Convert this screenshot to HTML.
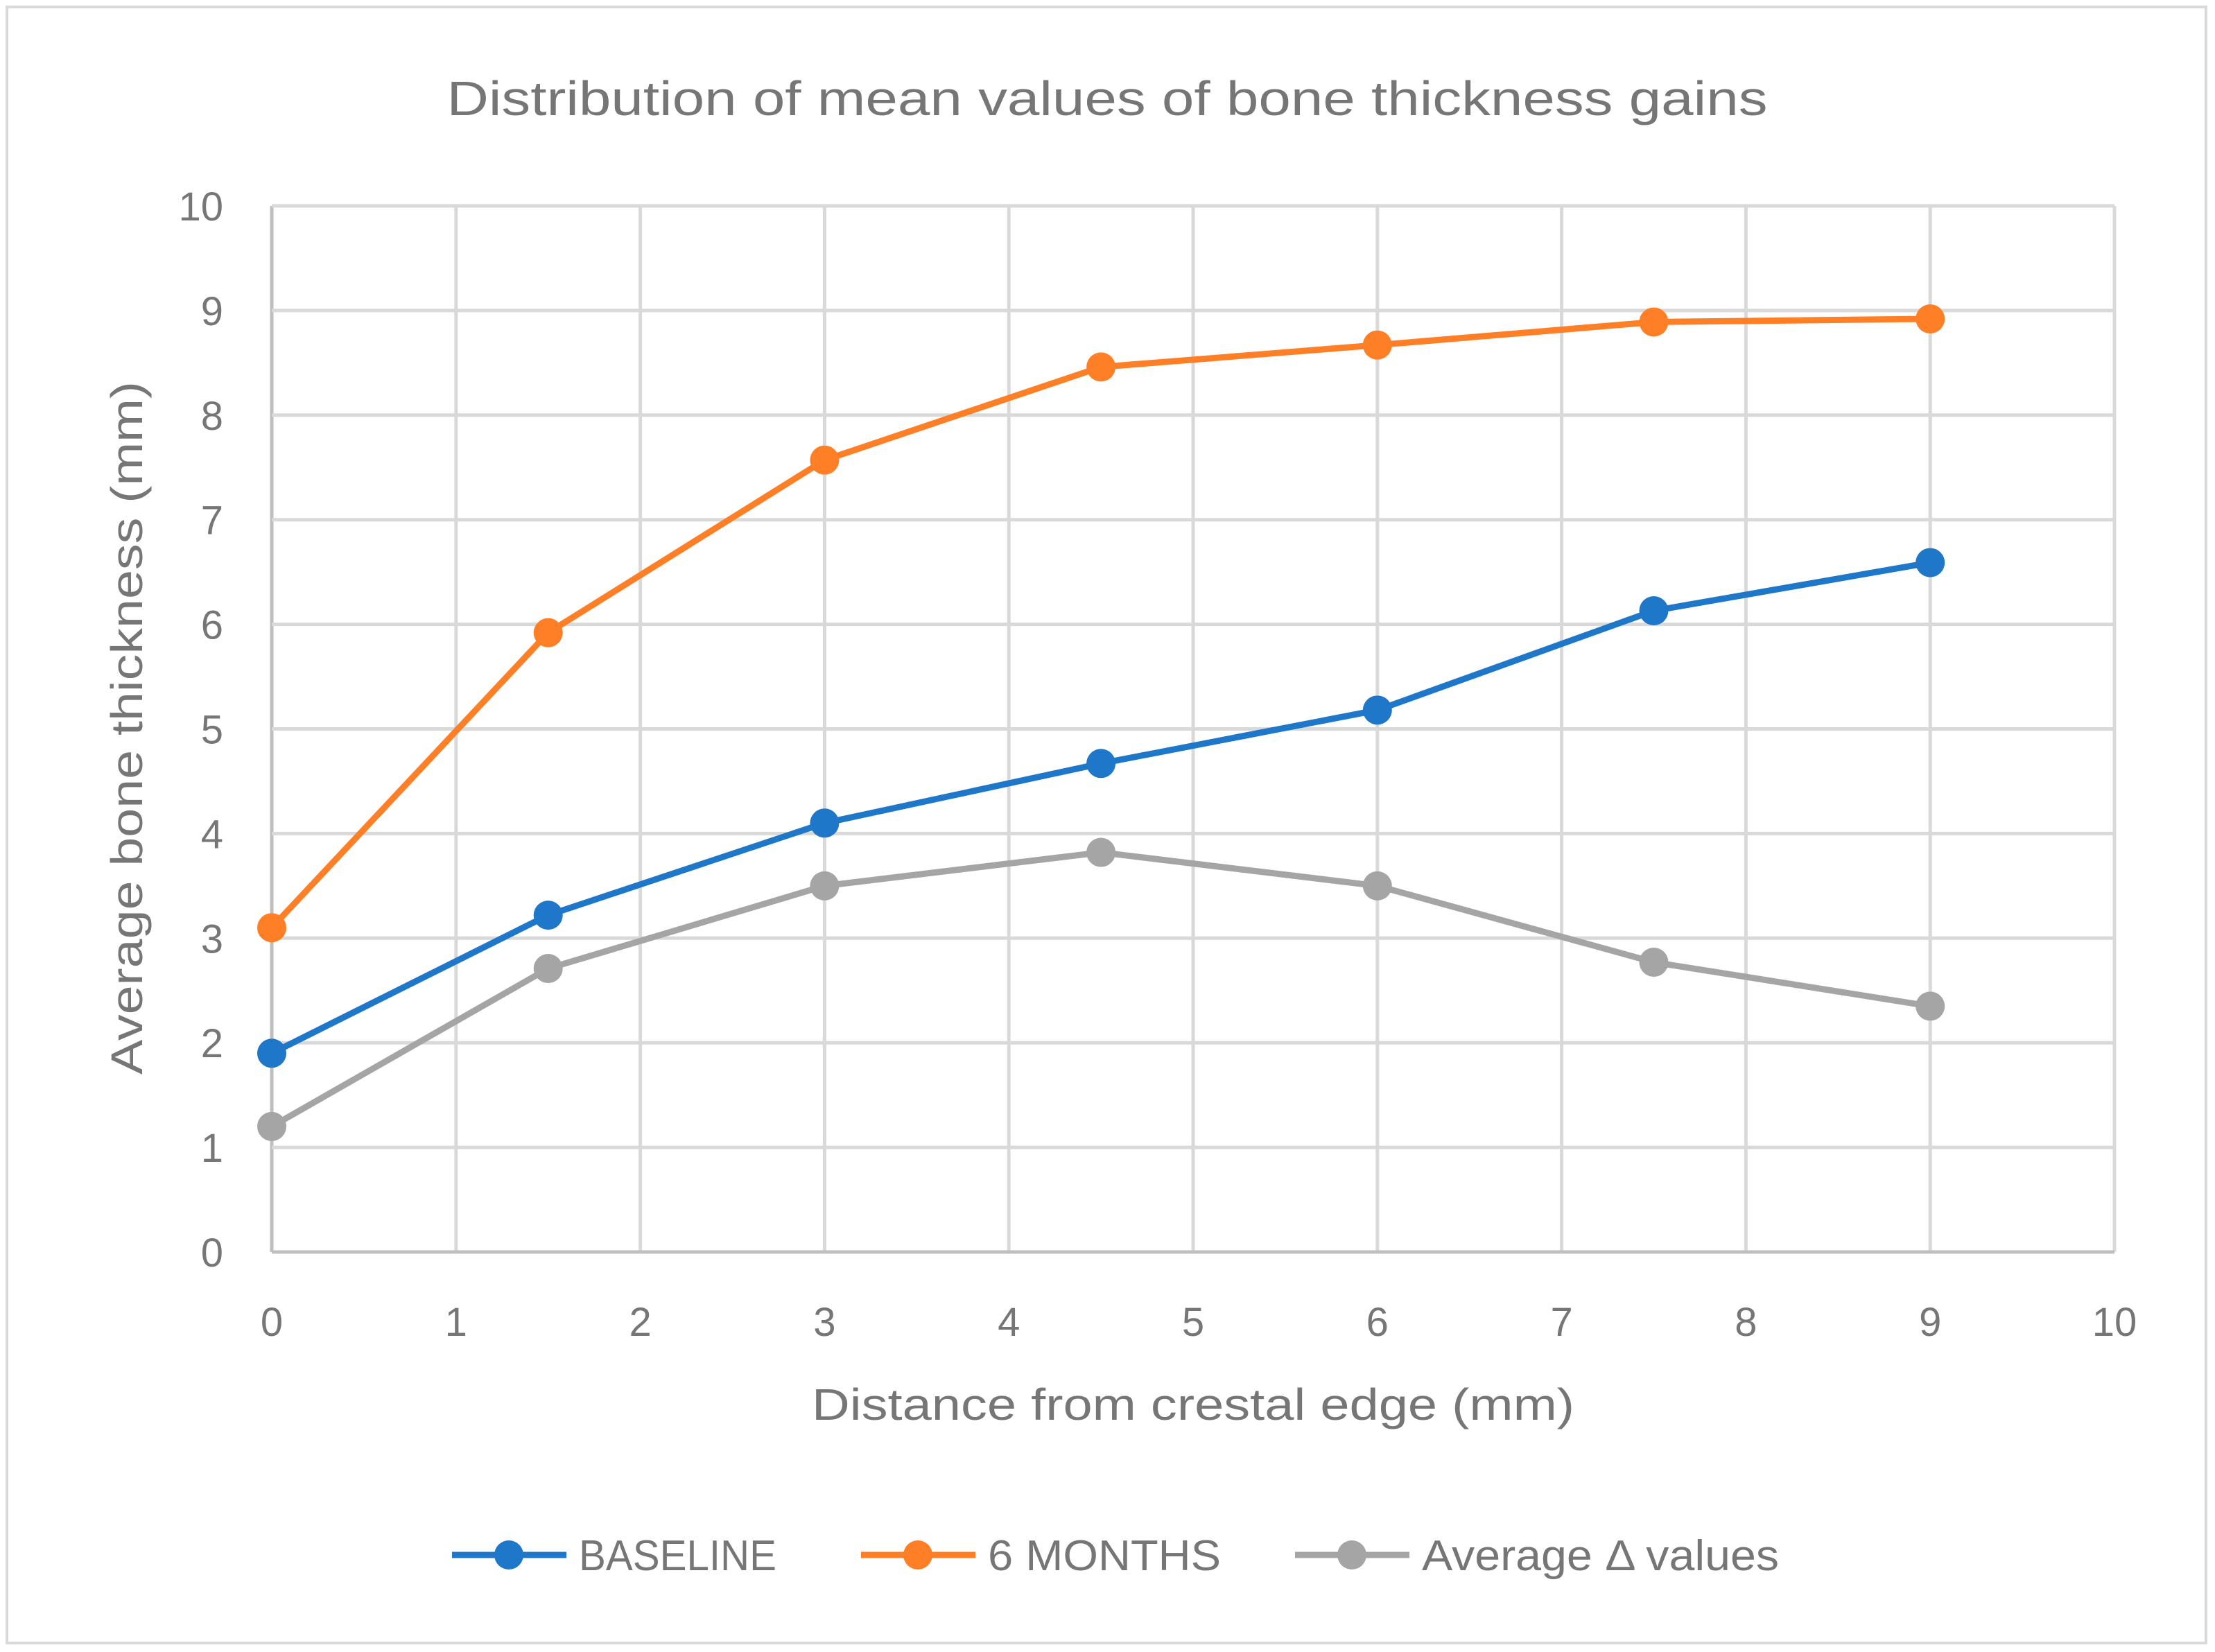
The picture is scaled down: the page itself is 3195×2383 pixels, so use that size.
<!DOCTYPE html>
<html><head><meta charset="utf-8"><style>
html,body{margin:0;padding:0;background:#fff;}
svg{display:block;font-family:"Liberation Sans",sans-serif;}
</style></head><body>
<svg id="chart" width="3195" height="2383">
<rect x="10" y="10" width="3172" height="2360" fill="#fff" stroke="#d9d9d9" stroke-width="4"/>
<text x="1597" y="166" text-anchor="middle" font-size="70" fill="#767676" textLength="1905" lengthAdjust="spacingAndGlyphs">Distribution of mean values of bone thickness gains</text>
<g id="grid"></g><g id="series"></g>
<text x="1721" y="2048" text-anchor="middle" font-size="64" fill="#767676" textLength="1100" lengthAdjust="spacingAndGlyphs">Distance from crestal edge (mm)</text>
<text transform="translate(205,1050) rotate(-90)" text-anchor="middle" font-size="64" fill="#767676" textLength="1000" lengthAdjust="spacingAndGlyphs">Average bone thickness (mm)</text>
<g id="legend"></g>
</svg>
<script>
const xTicks=[0,1,2,3,4,5,6,7,8,9,10];
const yTicks=[0,1,2,3,4,5,6,7,8,9,10];
const xValues=[0,1.5,3,4.5,6,7.5,9];
const baseline=[1.9,3.22,4.1,4.67,5.18,6.13,6.59];
const months6=[3.1,5.92,7.57,8.46,8.67,8.89,8.92];
const delta=[1.2,2.71,3.5,3.82,3.5,2.77,2.35];
const seriesNames=["BASELINE","6 MONTHS","Average \u0394 values"];
const NS="http://www.w3.org/2000/svg";
const L=392,R=3050,T=297,B=1806;
const sx=v=>L+(v-0)/(10-0)*(R-L);
const sy=v=>B-(v-0)/(10-0)*(B-T);
function mk(tag,attrs,parent){const e=document.createElementNS(NS,tag);for(const k in attrs)e.setAttribute(k,attrs[k]);parent.appendChild(e);return e;}
const grid=document.getElementById('grid');
xTicks.forEach(t=>{
 const l=mk('line',{x1:sx(t),x2:sx(t),y1:T,y2:B,stroke:t===0?'#bfbfbf':'#d9d9d9','stroke-width':5},grid);
 
 
 const tx=mk('text',{x:sx(t),y:1927,'text-anchor':'middle','font-size':58,fill:'#767676'},grid);
 tx.textContent=t;
 
 
});
yTicks.forEach(t=>{
 const l=mk('line',{x1:L,x2:R,y1:sy(t),y2:sy(t),stroke:t===0?'#bfbfbf':'#d9d9d9','stroke-width':5},grid);
 
 
 const tx=mk('text',{x:322,y:sy(t)+21,'text-anchor':'end','font-size':58,fill:'#767676'},grid);
 tx.textContent=t;
 
 
});
const colors=['#1f77c9','#ff7f27','#a5a5a5'];
const data=[baseline,months6,delta];
const sg=document.getElementById('series');
[2,0,1].forEach(i=>{
 const g=mk('g',{},sg);
 
 
 const pts=data[i].map((v,j)=>sx(xValues[j])+','+sy(v)).join(' ');
 const pl=mk('polyline',{points:pts,fill:'none',stroke:colors[i],'stroke-width':9,'stroke-linejoin':'round'},g);
 
 
 data[i].forEach((v,j)=>{
  const c=mk('circle',{cx:sx(xValues[j]),cy:sy(v),r:21,fill:colors[i]},g);
  
  
 });
});
const lg=document.getElementById('legend');
const lx=[652,1242,1868];
const lw=[285,336,515];
seriesNames.forEach((n,i)=>{
 const g=mk('g',{},lg);
 
 
 mk('line',{x1:lx[i],x2:lx[i]+165,y1:2243,y2:2243,stroke:colors[i],'stroke-width':9},g);
 mk('circle',{cx:lx[i]+82,cy:2243,r:21,fill:colors[i]},g);
 const t=mk('text',{x:lx[i]+183,y:2265,'font-size':62,fill:'#767676',textLength:lw[i],lengthAdjust:'spacingAndGlyphs'},g);
 t.textContent=n;
});
</script>
</body></html>
